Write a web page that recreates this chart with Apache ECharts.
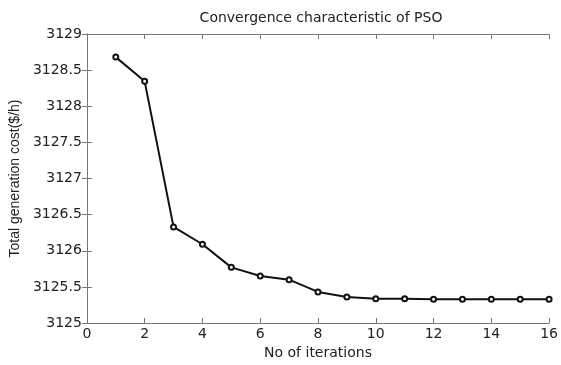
<!DOCTYPE html>
<html>
<head>
<meta charset="utf-8">
<script src="https://cdn.jsdelivr.net/npm/echarts@6/dist/echarts.min.js"></script>
<style>html,body{margin:0;padding:0;background:#fff}#c{width:561px;height:365px}</style>
</head>
<body>
<div id="c"></div>
<script>
var iterations = [1,2,3,4,5,6,7,8,9,10,11,12,13,14,15,16];
var cost = [3128.68,3128.345,3126.33,3126.09,3125.77,3125.65,3125.60,3125.43,3125.36,3125.335,3125.335,3125.33,3125.33,3125.33,3125.33,3125.33];
var titleText = 'Convergence characteristic of PSO';
var xName = 'No of iterations';
var yName = 'Total generation cost($/h)';

var wide = 'DejaVu Sans, Arial, sans-serif';
var narrow = 'Liberation Sans, Arial, sans-serif';
var axisColor = '#777';
var textColor = '#222';
var chart = echarts.init(document.getElementById('c'));
var data = iterations.map(function(x,i){return [x,cost[i]];});
function fmt(v){return String(Math.round(v*10)/10);}
chart.setOption({
  animation:false,
  title:{text:titleText,left:316,top:6,textAlign:'center',textStyle:{fontFamily:wide,fontSize:14,fontWeight:'normal',color:textColor}},
  grid:{left:85,right:10,top:34,bottom:38},
  xAxis:[{type:'value',min:0,max:16,interval:2,name:xName,nameLocation:'middle',nameGap:23,
    nameTextStyle:{fontFamily:wide,fontSize:14,color:textColor},
    axisLine:{lineStyle:{color:axisColor,width:1}},axisTick:{inside:true,length:5,lineStyle:{color:axisColor}},
    axisLabel:{fontFamily:wide,fontSize:14,color:textColor,margin:4},splitLine:{show:false}},
    {type:'value',position:'top',min:0,max:16,interval:2,axisLine:{lineStyle:{color:axisColor}},
    axisTick:{inside:true,length:5,lineStyle:{color:axisColor}},axisLabel:{show:false},splitLine:{show:false}}],
  yAxis:[{type:'value',min:3125,max:3129,interval:0.5,name:yName,nameLocation:'middle',nameGap:53,
    nameTextStyle:{fontFamily:narrow,fontSize:14,color:textColor},
    axisLine:{show:true,lineStyle:{color:axisColor,width:1}},axisTick:{show:true,inside:true,length:5,lineStyle:{color:axisColor}},
    axisLabel:{fontFamily:wide,fontSize:14,color:textColor,margin:5,formatter:fmt},splitLine:{show:false}},
    {type:'value',position:'right',min:3125,max:3129,interval:0.5,axisLine:{show:true,lineStyle:{color:axisColor}},
    axisTick:{show:true,inside:true,length:5,lineStyle:{color:axisColor}},axisLabel:{show:false},splitLine:{show:false}}],
  series:[{type:'line',data:data,symbol:'emptyCircle',symbolSize:5,showAllSymbol:true,
    lineStyle:{color:'#111',width:2},itemStyle:{color:'#111',borderColor:'#111',borderWidth:1.5}}]
});
</script>
</body>
</html>
